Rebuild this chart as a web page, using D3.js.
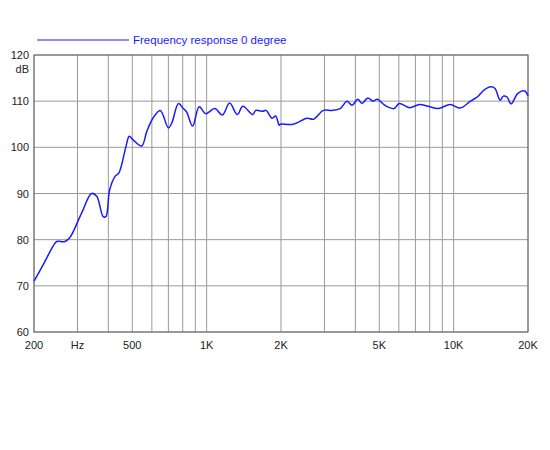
<!DOCTYPE html>
<html><head><meta charset="utf-8">
<script src="https://cdn.jsdelivr.net/npm/d3@7"></script>
<style>body{margin:0;background:#fff}text{font-family:"Liberation Sans",Arial,sans-serif}</style>
</head><body><svg id="c" width="550" height="450"></svg>
<script>
const freqs = [200,218,239,247,267,279,312,342,359,381,391,405,426,441,471,486,504,546,572,606,649,700,723,769,805,829,877,933,992,1079,1158,1239,1330,1402,1537,1581,1686,1740,1840,1902,1967,1990,2240,2550,2705,2970,3215,3475,3700,3880,4090,4260,4490,4720,4900,5300,5740,6020,6620,7280,7880,8660,9680,10640,11700,12460,13270,14140,14680,15430,15880,16440,17080,18200,19400,20000];
const dbs = [71,74.6,78.6,79.6,79.6,80.4,85.8,90,89.4,85,85,90.8,93.7,94.4,100.1,102.4,101.6,100.3,103.4,106.3,108,104.2,105.3,109.5,108.4,107.7,104.6,108.8,107.3,108.4,107,109.6,107.1,108.9,107.1,108,107.8,108,106.3,106.8,104.8,105,105,106.3,106.1,108,108,108.4,110,109.1,110.4,109.5,110.7,110,110.4,109,108.4,109.5,108.6,109.3,108.9,108.4,109.3,108.5,110,110.9,112.4,113.1,112.8,110.2,111.1,110.9,109.4,111.7,112.2,111.1];
const gridFreqs = [200,300,400,500,600,700,800,900,1000,2000,3000,4000,5000,6000,7000,8000,9000,10000,20000];
const xLabels = [[200,"200"],[300,"Hz"],[500,"500"],[1000,"1K"],[2000,"2K"],[5000,"5K"],[10000,"10K"],[20000,"20K"]];
const yTicks = [60,70,80,90,100,110,120];

const svg = d3.select("#c");
const x = d3.scaleLog().domain([200,20000]).range([34,528]);
const y = d3.scaleLinear().domain([60,120]).range([332,55]);

svg.append("g").selectAll("line").data(gridFreqs).join("line")
  .attr("x1", d => x(d)).attr("x2", d => x(d)).attr("y1", 55).attr("y2", 332)
  .attr("stroke", "#999").attr("stroke-width", 1);
svg.append("g").selectAll("line").data(yTicks).join("line")
  .attr("x1", 34).attr("x2", 528).attr("y1", d => y(d)).attr("y2", d => y(d))
  .attr("stroke", "#999").attr("stroke-width", 1);
svg.append("rect").attr("x", 34).attr("y", 55).attr("width", 494).attr("height", 277)
  .attr("fill", "none").attr("stroke", "#666");

svg.append("g").selectAll("text").data(yTicks).join("text")
  .attr("x", 29).attr("y", d => y(d) + 4).attr("text-anchor", "end")
  .attr("font-size", 11).attr("fill", "#222").text(d => d);
svg.append("text").attr("x", 29).attr("y", 73).attr("text-anchor", "end")
  .attr("font-size", 11).attr("fill", "#222").text("dB");
svg.append("g").selectAll("text").data(xLabels).join("text")
  .attr("x", d => x(d[0])).attr("y", 349).attr("text-anchor", "middle")
  .attr("font-size", 11).attr("fill", "#222").text(d => d[1]);

const line = d3.line().x((d, i) => x(freqs[i])).y(d => y(d)).curve(d3.curveCatmullRom.alpha(0.5));
svg.append("path").datum(dbs).attr("d", line)
  .attr("fill", "none").attr("stroke", "#1a1aff").attr("stroke-width", 1.5);

svg.append("line").attr("x1", 37).attr("x2", 129).attr("y1", 40).attr("y2", 40)
  .attr("stroke", "#1a1aff").attr("stroke-width", 1.2);
svg.append("text").attr("x", 133).attr("y", 44).attr("font-size", 11.5)
  .attr("fill", "#1a1aff").text("Frequency response 0 degree");
</script></body></html>
